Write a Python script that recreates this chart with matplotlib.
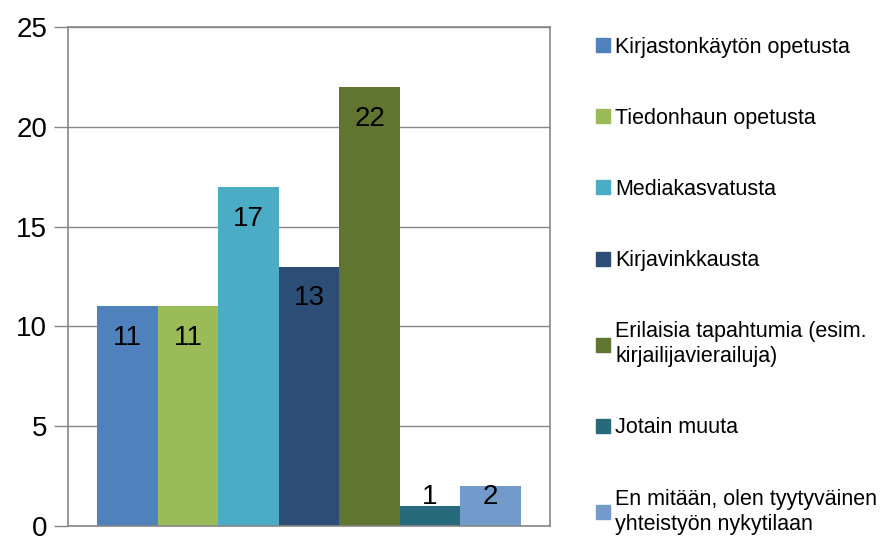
import matplotlib.pyplot as plt
from matplotlib.lines import Line2D

plt.rcParams['font.family'] = ['Liberation Sans', 'DejaVu Sans']

labels = ['Kirjastonkäytön opetusta', 'Tiedonhaun opetusta', 'Mediakasvatusta',
          'Kirjavinkkausta', 'Erilaisia tapahtumia (esim.\nkirjailijavierailuja)',
          'Jotain muuta', 'En mitään, olen tyytyväinen\nyhteistyön nykytilaan']
values = [11, 11, 17, 13, 22, 1, 2]
colors = ['#4F81BD', '#9BBB59', '#4BACC6', '#2C4D75', '#5F7530', '#276A7C', '#729ACA']

fig = plt.figure(figsize=(8.86, 5.38), dpi=100)
ax = fig.add_axes([68/886, 1 - 526/538, (550 - 68)/886, (526 - 27)/538])

x = range(len(values))
ax.bar(x, values, width=1.0, color=colors, zorder=2)
for i, v in enumerate(values):
    ax.text(i, max(v - 1.6, 1.45), str(v), ha='center', va='center', fontsize=20, zorder=3)

ax.set_xlim(-0.98, 6.98)
ax.set_ylim(0, 25)
ax.set_yticks([0, 5, 10, 15, 20, 25])
ax.set_xticks([])
ax.yaxis.grid(True, color='#868686', linewidth=1, zorder=0)
for s in ax.spines.values():
    s.set_color('#868686')
    s.set_linewidth(1.2)
ax.tick_params(axis='y', length=10, width=1, color='#868686', labelsize=20, pad=5)

handles = [Line2D([], [], marker='s', linestyle='none', markersize=9.5, color=c) for c in colors]
leg = fig.legend(handles, labels, loc='upper left', bbox_to_anchor=(584/886, 1 - 28/538),
                 frameon=False, fontsize=15.5, labelspacing=2.33, handletextpad=0.05,
                 handlelength=1.0, borderaxespad=0)
for t in leg.get_texts():
    t.set_linespacing(1.25)

fig.savefig('out.png', dpi=100)
